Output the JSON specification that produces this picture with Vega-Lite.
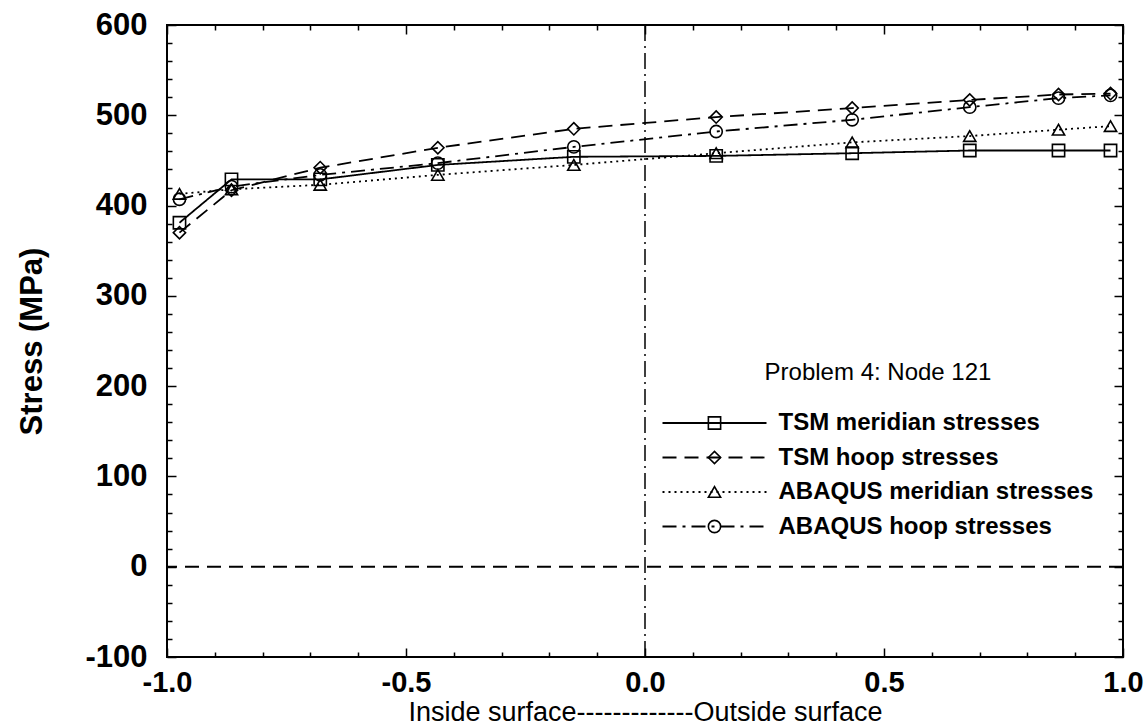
{
  "$schema": "https://vega.github.io/schema/vega-lite/v6.json",
  "width": 956,
  "height": 632,
  "autosize": {"type": "none"},
  "padding": {"left": 167, "top": 25, "right": 24, "bottom": 71},
  "background": "white",
  "config": {
    "font": "Liberation Sans",
    "view": {"stroke": "black", "strokeWidth": 2},
    "axis": {"domain": false, "grid": false, "ticks": true, "tickColor": "black", "labelColor": "black", "titleColor": "black"}
  },
  "data": {
    "values": [
      {"pos": -0.9739, "stress": 381, "series": "TSM meridian stresses"},
      {"pos": -0.8651, "stress": 429, "series": "TSM meridian stresses"},
      {"pos": -0.6794, "stress": 429, "series": "TSM meridian stresses"},
      {"pos": -0.4334, "stress": 445, "series": "TSM meridian stresses"},
      {"pos": -0.1489, "stress": 454, "series": "TSM meridian stresses"},
      {"pos": 0.1489, "stress": 455, "series": "TSM meridian stresses"},
      {"pos": 0.4334, "stress": 458, "series": "TSM meridian stresses"},
      {"pos": 0.6794, "stress": 461, "series": "TSM meridian stresses"},
      {"pos": 0.8651, "stress": 461, "series": "TSM meridian stresses"},
      {"pos": 0.9739, "stress": 461, "series": "TSM meridian stresses"},
      {"pos": -0.9739, "stress": 370, "series": "TSM hoop stresses"},
      {"pos": -0.8651, "stress": 417, "series": "TSM hoop stresses"},
      {"pos": -0.6794, "stress": 442, "series": "TSM hoop stresses"},
      {"pos": -0.4334, "stress": 464, "series": "TSM hoop stresses"},
      {"pos": -0.1489, "stress": 485, "series": "TSM hoop stresses"},
      {"pos": 0.1489, "stress": 498, "series": "TSM hoop stresses"},
      {"pos": 0.4334, "stress": 508, "series": "TSM hoop stresses"},
      {"pos": 0.6794, "stress": 517, "series": "TSM hoop stresses"},
      {"pos": 0.8651, "stress": 523, "series": "TSM hoop stresses"},
      {"pos": 0.9739, "stress": 524, "series": "TSM hoop stresses"},
      {"pos": -0.9739, "stress": 413, "series": "ABAQUS meridian stresses"},
      {"pos": -0.8651, "stress": 418, "series": "ABAQUS meridian stresses"},
      {"pos": -0.6794, "stress": 423, "series": "ABAQUS meridian stresses"},
      {"pos": -0.4334, "stress": 434, "series": "ABAQUS meridian stresses"},
      {"pos": -0.1489, "stress": 445, "series": "ABAQUS meridian stresses"},
      {"pos": 0.1489, "stress": 458, "series": "ABAQUS meridian stresses"},
      {"pos": 0.4334, "stress": 470, "series": "ABAQUS meridian stresses"},
      {"pos": 0.6794, "stress": 477, "series": "ABAQUS meridian stresses"},
      {"pos": 0.8651, "stress": 484, "series": "ABAQUS meridian stresses"},
      {"pos": 0.9739, "stress": 488, "series": "ABAQUS meridian stresses"},
      {"pos": -0.9739, "stress": 407, "series": "ABAQUS hoop stresses"},
      {"pos": -0.8651, "stress": 421, "series": "ABAQUS hoop stresses"},
      {"pos": -0.6794, "stress": 434, "series": "ABAQUS hoop stresses"},
      {"pos": -0.4334, "stress": 447, "series": "ABAQUS hoop stresses"},
      {"pos": -0.1489, "stress": 465, "series": "ABAQUS hoop stresses"},
      {"pos": 0.1489, "stress": 482, "series": "ABAQUS hoop stresses"},
      {"pos": 0.4334, "stress": 495, "series": "ABAQUS hoop stresses"},
      {"pos": 0.6794, "stress": 509, "series": "ABAQUS hoop stresses"},
      {"pos": 0.8651, "stress": 519, "series": "ABAQUS hoop stresses"},
      {"pos": 0.9739, "stress": 522, "series": "ABAQUS hoop stresses"}
    ]
  },
  "resolve": {"axis": {"x": "independent", "y": "independent"}},
  "layer": [
    {
      "data": {"values": [{}]},
      "mark": {"type": "rule", "color": "black", "strokeWidth": 2, "strokeDash": [14, 8]},
      "encoding": {
        "y": {
          "datum": 0, "type": "quantitative",
          "scale": {"domain": [-100, 600], "nice": false, "zero": false},
          "axis": {
            "orient": "right", "labels": false, "title": null, "domain": false, "ticks": true,
            "values": [-100,-80,-60,-40,-20,0,20,40,60,80,100,120,140,160,180,200,220,240,260,280,300,320,340,360,380,400,420,440,460,480,500,520,540,560,580,600],
            "tickWidth": 1.5,
            "tickSize": {"condition": {"test": "datum.value % 100 === 0", "value": -9}, "value": -5}
          }
        }
      }
    },
    {
      "data": {"values": [{}]},
      "mark": {"type": "rule", "color": "black", "strokeWidth": 1.5, "strokeDash": [16, 5, 2, 5]},
      "encoding": {
        "x": {
          "datum": 0, "type": "quantitative",
          "scale": {"domain": [-1, 1], "nice": false, "zero": false},
          "axis": {
            "orient": "top", "labels": false, "title": null, "domain": false, "ticks": true,
            "values": [-1,-0.9,-0.8,-0.7,-0.6,-0.5,-0.4,-0.3,-0.2,-0.1,0,0.1,0.2,0.3,0.4,0.5,0.6,0.7,0.8,0.9,1],
            "tickWidth": 1.5,
            "tickSize": {"condition": {"test": "abs(datum.value*2 - round(datum.value*2)) < 0.001", "value": -9}, "value": -5}
          }
        }
      }
    },
    {
      "mark": {"type": "line", "color": "black", "strokeWidth": 1.8},
      "encoding": {
        "x": {
          "field": "pos", "type": "quantitative",
          "scale": {"domain": [-1, 1], "nice": false, "zero": false},
          "axis": {
            "orient": "bottom", "ticks": true,
            "values": [-1,-0.9,-0.8,-0.7,-0.6,-0.5,-0.4,-0.3,-0.2,-0.1,0,0.1,0.2,0.3,0.4,0.5,0.6,0.7,0.8,0.9,1],
            "labelExpr": "abs(datum.value*2 - round(datum.value*2)) < 0.001 ? replace(format(datum.value, '.1f'), '\u2212', '-') : ''",
            "labelOverlap": false, "labelFlush": false,
            "labelFontSize": 29, "labelFontWeight": "bold", "labelPadding": 20,
            "tickWidth": 1.5,
            "tickSize": {"condition": {"test": "abs(datum.value*2 - round(datum.value*2)) < 0.001", "value": -9}, "value": -5},
            "title": "Inside surface-------------Outside surface",
            "titleFontSize": 27, "titleFontWeight": "normal", "titlePadding": -2
          }
        },
        "y": {
          "field": "stress", "type": "quantitative",
          "scale": {"domain": [-100, 600], "nice": false, "zero": false},
          "axis": {
            "orient": "left", "ticks": true,
            "values": [-100,-80,-60,-40,-20,0,20,40,60,80,100,120,140,160,180,200,220,240,260,280,300,320,340,360,380,400,420,440,460,480,500,520,540,560,580,600],
            "labelExpr": "datum.value % 100 === 0 ? replace(format(datum.value, 'd'), '\u2212', '-') : ''",
            "labelOverlap": false, "labelFlush": false,
            "labelFontSize": 31, "labelFontWeight": "bold", "labelPadding": 29,
            "tickWidth": 1.5,
            "tickSize": {"condition": {"test": "datum.value % 100 === 0", "value": -9}, "value": -5},
            "title": "Stress (MPa)",
            "titleFontSize": 31, "titleFontWeight": "bold", "titlePadding": 36
          }
        },
        "strokeDash": {
          "field": "series", "type": "nominal",
          "scale": {
            "domain": ["TSM meridian stresses", "TSM hoop stresses", "ABAQUS meridian stresses", "ABAQUS hoop stresses"],
            "range": [[1, 0], [14, 8], [2, 4], [14, 6, 3, 6]]
          },
          "legend": {
            "orient": "none", "legendX": 495, "legendY": 336, "padding": 0,
            "title": "Problem 4: Node 121", "titleFontSize": 24, "titleFontWeight": "normal",
            "titleAnchor": "middle", "titlePadding": 26, "titleColor": "black", "titleLimit": 500,
            "labelFontSize": 24, "labelFontWeight": "bold", "labelColor": "black", "labelLimit": 500,
            "labelOffset": 52, "symbolOffset": 40.5,
            "symbolType": "M-13,0H13", "symbolSize": 64, "symbolStrokeWidth": 1.8,
            "symbolStrokeColor": "black", "rowPadding": 10.5
          }
        }
      }
    },
    {
      "mark": {"type": "point", "filled": false, "color": "black", "strokeWidth": 1.6, "size": 150, "opacity": 1},
      "encoding": {
        "x": {"field": "pos", "type": "quantitative", "scale": {"domain": [-1, 1], "nice": false, "zero": false}, "axis": null},
        "y": {"field": "stress", "type": "quantitative", "scale": {"domain": [-100, 600], "nice": false, "zero": false}, "axis": null},
        "shape": {
          "field": "series", "type": "nominal",
          "sort": ["TSM meridian stresses", "TSM hoop stresses", "ABAQUS meridian stresses", "ABAQUS hoop stresses"],
          "scale": {"range": ["square", "diamond", "triangle-up", "circle"]},
          "legend": {
            "orient": "none", "legendX": 495, "legendY": 336, "padding": 0,
            "title": "Problem 4: Node 121", "titleFontSize": 24, "titleFontWeight": "normal",
            "titleAnchor": "middle", "titlePadding": 26, "titleOpacity": 0, "titleLimit": 500,
            "labelFontSize": 24, "labelFontWeight": "bold", "labelOpacity": 0, "labelLimit": 500,
            "labelOffset": 52, "symbolOffset": 40.5,
            "symbolSize": 150, "symbolStrokeWidth": 1.6, "symbolStrokeColor": "black",
            "symbolFillColor": "transparent", "rowPadding": 10.5
          }
        }
      }
    }
  ]
}
